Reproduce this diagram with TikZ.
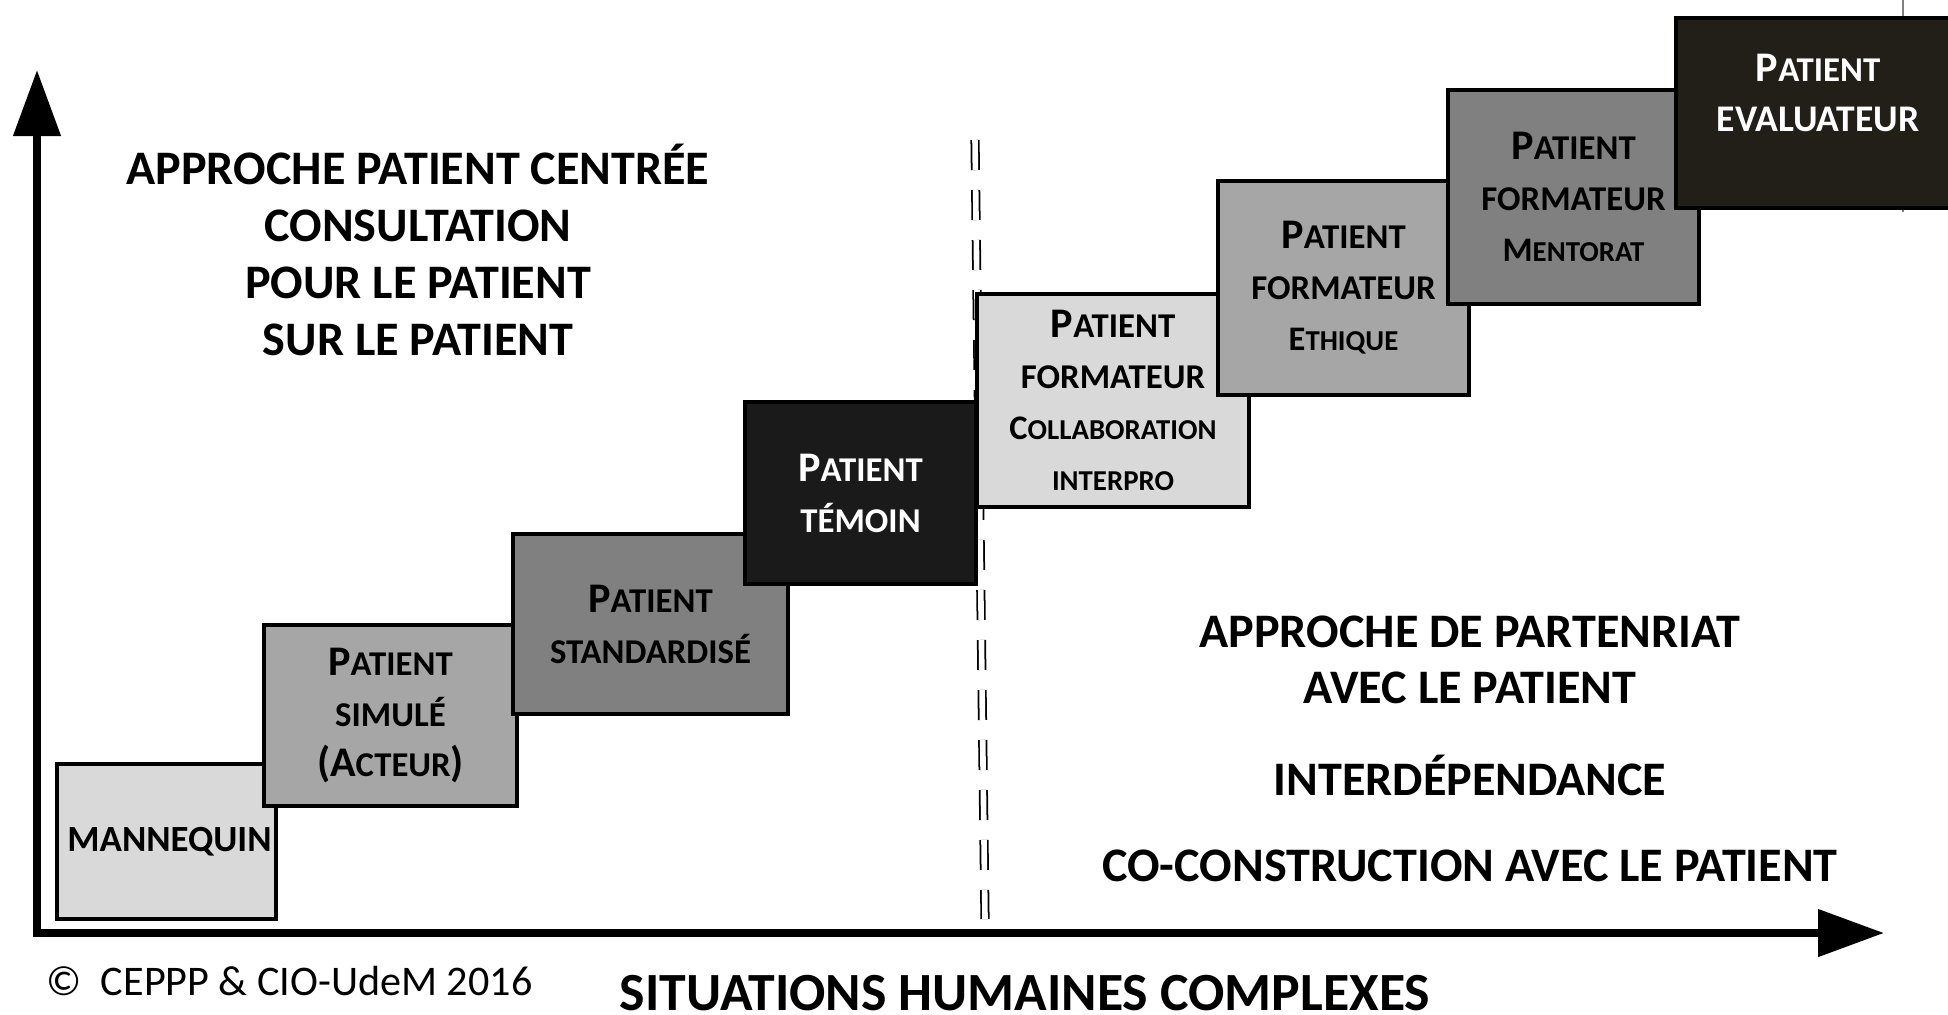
\documentclass[tikz,border=0pt]{standalone}
\usepackage{fontspec}
\setmainfont{Carlito}
\usetikzlibrary{positioning,arrows.meta}
\tikzset{>={Triangle[length=6.6mm,width=4.6mm]}}
\definecolor{lightg}{HTML}{D9D9D9}
\definecolor{midg}{HTML}{A6A6A6}
\definecolor{darkg}{HTML}{808080}
\definecolor{nearblack}{HTML}{1A1A1A}
\definecolor{deepolive}{HTML}{211F17}
\newcommand\smc[1]{{\fontsize{9.9}{14.5}\selectfont #1}}
\newcommand\smcsub[2]{{\fontsize{9.8}{14.5}\selectfont #1\fontsize{8.2}{14.5}\selectfont #2}}
\tikzset{
  stair/.style={draw=black,line width=1.1pt,inner sep=0pt,align=center,
    font=\fontsize{12}{14.5}\selectfont\bfseries},
  axis/.style={line width=2.2pt,line join=miter,<->},
  bigtext/.style={align=center,font=\fontsize{13.7}{16.2}\selectfont\bfseries}
}

\begin{document}
\begin{tikzpicture}[x=0.1mm,y=-0.1mm]
\useasboundingbox (0,0) rectangle (1948,1014);
\coordinate (ytip) at (37,70);
\coordinate (origin) at (37,933);
\coordinate (xtip) at (1884,933);
\coordinate (dtop) at (975,140);
\coordinate (dbot) at (985,919);
\coordinate (edgetop) at (1903,0);
\coordinate (edgebot) at (1903,212);
\draw[line width=0.4pt,gray] (edgetop) -- (edgebot);
\draw[line width=0.5pt,double=white,double distance=1.6pt,dash pattern=on 3mm off 2mm] (dtop) -- (dbot);
\node[stair,fill=lightg,minimum width=21.9mm,minimum height=15.5mm] (mann) at (166.5,841.5) {};
\node[font=\fontsize{10.5}{14}\selectfont\bfseries,inner sep=0pt] (manntxt) at ([xshift=0.3mm]mann.center) {MANNEQUIN};
\node[stair,fill=midg,minimum width=25.3mm,minimum height=18.1mm] (simul) at (390.5,715.5) {P\smc{ATIENT}\\\smc{SIMULÉ}\\(A\smc{CTEUR})};
\node[stair,fill=darkg,minimum width=27.5mm,minimum height=18mm] (stand) at (650.5,624) {P\smc{ATIENT}\\\smc{STANDARDISÉ}};
\node[stair,fill=nearblack,text=white,minimum width=23.1mm,minimum height=18.2mm] (temoin) at (860.5,493) {P\smc{ATIENT}\\\smc{TÉMOIN}};
\node[stair,fill=lightg,minimum width=27.2mm,minimum height=21.3mm] (collab) at (1113,400.5) {P\smc{ATIENT}\\\smc{FORMATEUR}\\\smcsub{C}{OLLABORATION}\\\smcsub{}{INTERPRO}};
\node[stair,fill=midg,minimum width=25.1mm,minimum height=21.4mm] (ethique) at (1343.5,288) {P\smc{ATIENT}\\\smc{FORMATEUR}\\\smcsub{E}{THIQUE}};
\node[stair,fill=darkg,minimum width=25.1mm,minimum height=21.4mm] (mentor) at (1573.5,197) {P\smc{ATIENT}\\\smc{FORMATEUR}\\\smcsub{M}{ENTORAT}};
\node[stair,fill=deepolive,minimum width=28.4mm,minimum height=19mm] (evalbox) at (1818,113) {};
\node[align=center,text=white,font=\fontsize{12}{14}\selectfont\bfseries] (evaltxt) at ([yshift=2mm]evalbox.center) {P\smc{ATIENT}\\{\fontsize{10.7}{14}\selectfont EVALUATEUR}};
\draw[axis] (ytip) -- (origin) -- (xtip);
\node[bigtext] (centred) at (418,250) {APPROCHE PATIENT CENTRÉE\\CONSULTATION\\POUR LE PATIENT\\SUR LE PATIENT};
\node[bigtext,font=\fontsize{13.7}{15.9}\selectfont\bfseries] (partner) at (1470,749) {APPROCHE DE PARTENRIAT\\AVEC LE PATIENT\\[3.6mm]INTERDÉPENDANCE\\[3.1mm]CO-CONSTRUCTION AVEC LE PATIENT};
\node[font=\fontsize{15.3}{17}\selectfont\bfseries] (xlabel) at (1025,993) {SITUATIONS HUMAINES COMPLEXES};
\node[anchor=west,inner sep=0pt,font=\fontsize{12}{14}\selectfont] (credit) at (46,981) {©\ \ CEPPP \& CIO-UdeM 2016};
\end{tikzpicture}
\end{document}
